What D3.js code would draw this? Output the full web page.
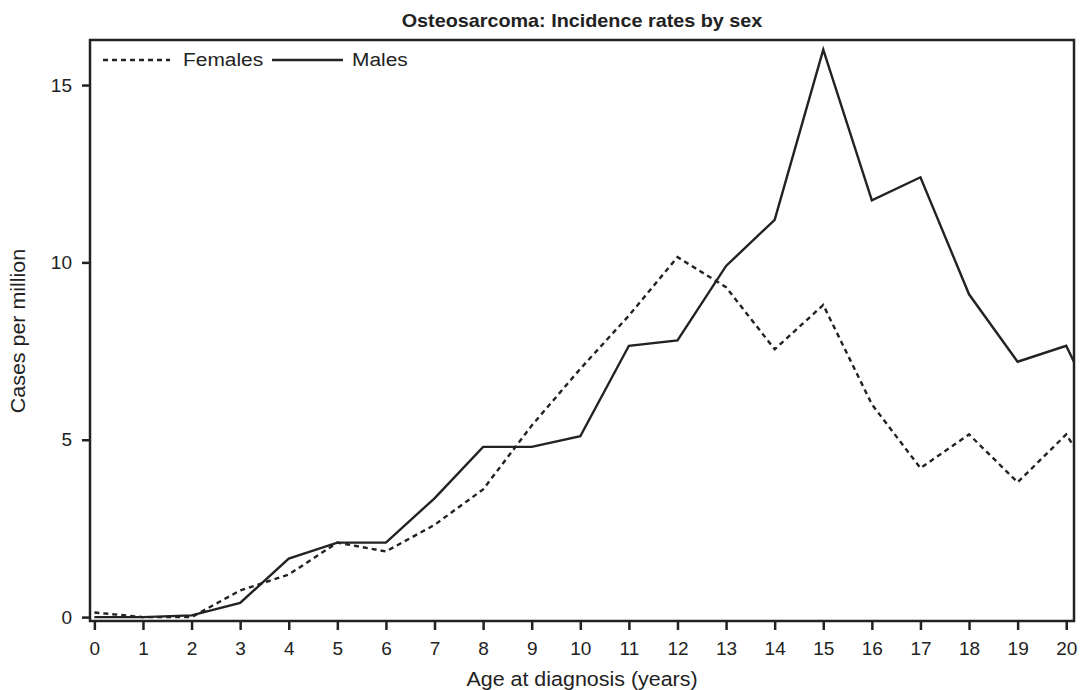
<!DOCTYPE html>
<html>
<head>
<meta charset="utf-8">
<script src="https://cdn.jsdelivr.net/npm/d3@7"></script>
<style>
	body { margin: 0; background: #fff; }
	svg { font-family: "Liberation Sans", Arial, sans-serif; }
	.axis text { font-size: 19px; fill: #222; }
	.axis path, .axis line { stroke: #222; stroke-width: 2.5px; }
</style>
</head>
<body>
<div id="chart"></div>
<script>
// age at diagnosis (years); last point lies just beyond the frame and is clipped
const ages = [0, 1, 2, 3, 4, 5, 6, 7, 8, 9, 10, 11, 12, 13, 14, 15, 16, 17, 18, 19, 20, 21];
const females = [0.13, 0.0, 0.0, 0.75, 1.2, 2.1, 1.85, 2.6, 3.6, 5.4, 7.0, 8.5, 10.15, 9.3, 7.55, 8.8, 6.0, 4.2, 5.15, 3.8, 5.15, 3.0];
const males = [0.0, 0.0, 0.05, 0.4, 1.65, 2.1, 2.1, 3.35, 4.8, 4.8, 5.1, 7.65, 7.8, 9.9, 11.2, 16.0, 11.75, 12.4, 9.1, 7.2, 7.65, 4.8];
const xTicks = d3.range(0, 21);
const yTicks = [0, 5, 10, 15];

const width = 1084, height = 690;
const margin = { top: 40, right: 10, bottom: 69, left: 90 };
const w = width - margin.left - margin.right,
	h = height - margin.top - margin.bottom;

// the reference text is a bit wider than it is tall
const stretch = 1.1;

const x = d3.scaleLinear().domain([-0.09, 20.16]).range([0, w]);
const y = d3.scaleLinear().domain([-0.11, 16.27]).range([h, 0]);

const svg = d3.select('#chart').append('svg')
	.attr('width', width)
	.attr('height', height);

svg.append('text')
	.attr('transform', `translate(${margin.left + w / 2},27) scale(${stretch},1)`)
	.attr('text-anchor', 'middle')
	.style('font-size', '18px')
	.style('font-weight', 'bold')
	.attr('fill', '#222')
	.text('Osteosarcoma: Incidence rates by sex');

const g = svg.append('g')
	.attr('transform', `translate(${margin.left},${margin.top})`);

g.append('clipPath').attr('id', 'clip')
	.append('rect').attr('width', w).attr('height', h);

const line = d3.line()
	.x((d, i) => x(ages[i]))
	.y(d => y(d));

g.append('path')
	.datum(females)
	.attr('clip-path', 'url(#clip)')
	.attr('fill', 'none')
	.attr('stroke', '#222')
	.attr('stroke-width', 2.4)
	.attr('stroke-dasharray', '5,4')
	.attr('d', line);

g.append('path')
	.datum(males)
	.attr('clip-path', 'url(#clip)')
	.attr('fill', 'none')
	.attr('stroke', '#222')
	.attr('stroke-width', 2.4)
	.attr('d', line);

// frame
g.append('rect')
	.attr('width', w).attr('height', h)
	.attr('fill', 'none')
	.attr('stroke', '#222')
	.attr('stroke-width', 2.5);

g.append('g')
	.attr('class', 'axis')
	.attr('transform', `translate(0,${h})`)
	.call(d3.axisBottom(x).tickValues(xTicks).tickSize(9).tickPadding(12).tickSizeOuter(0))
	.call(s => s.select('.domain').remove());

g.append('g')
	.attr('class', 'axis')
	.call(d3.axisLeft(y).tickValues(yTicks).tickSize(8).tickPadding(10).tickSizeOuter(0))
	.call(s => s.select('.domain').remove());

svg.append('text')
	.attr('transform', `translate(${margin.left + w / 2},686) scale(${stretch},1)`)
	.attr('text-anchor', 'middle')
	.style('font-size', '19.5px')
	.attr('fill', '#222')
	.text('Age at diagnosis (years)');

svg.append('text')
	.attr('transform', `translate(25,331) rotate(-90) scale(${stretch},1)`)
	.attr('text-anchor', 'middle')
	.style('font-size', '19.5px')
	.attr('fill', '#222')
	.text('Cases per million');

// legend
const legend = [
	{ label: 'Females', dash: '5,4', x1: 103, x2: 170, tx: 183 },
	{ label: 'Males', dash: null, x1: 272, x2: 343, tx: 352 }
];
legend.forEach(l => {
	svg.append('line')
		.attr('x1', l.x1).attr('x2', l.x2)
		.attr('y1', 60).attr('y2', 60)
		.attr('stroke', '#222')
		.attr('stroke-width', 2.4)
		.attr('stroke-dasharray', l.dash);
	svg.append('text')
		.attr('transform', `translate(${l.tx},66) scale(${stretch},1)`)
		.style('font-size', '19px')
		.attr('fill', '#222')
		.text(l.label);
});
</script>
</body>
</html>
